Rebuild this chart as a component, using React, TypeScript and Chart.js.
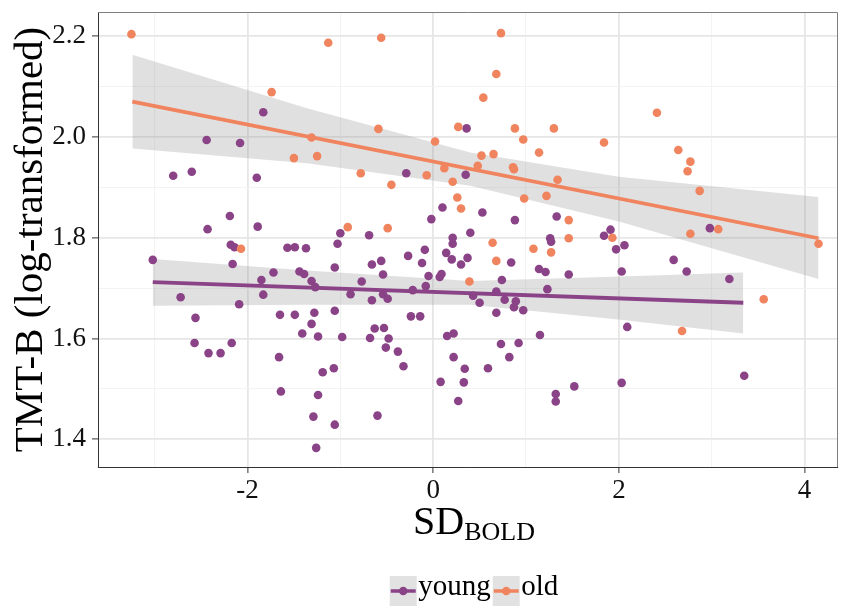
import React, { useEffect, useRef } from 'react';
import { Chart, registerables } from 'chart.js';

Chart.register(...registerables);

const FONT = '"Liberation Serif", "Times New Roman", serif';

const seriesNames = ['young', 'old'];
const seriesColors = ['#8a4387', '#f0845f'];

const xTicks = [-3, -2, -1, 0, 1, 2, 3, 4];
const xTickLabels = ['', '-2', '', '0', '', '2', '', '4'];
const yTicks = [1.4, 1.5, 1.6, 1.7, 1.8, 1.9, 2.0, 2.1, 2.2];
const yTickLabels = ['1.4', '', '1.6', '', '1.8', '', '2.0', '', '2.2'];

const youngX = [
  -1.83, -2.44, -2.08, -2.8, -2.6, -1.9, -2.19, -2.43, -1.89, -1.0,
  -3.02, -2.18, -2.14, -2.16, -2.72, -2.56, -2.09, -2.57, -2.42, -2.29,
  -2.17, -1.85, -1.83, -1.72, -1.57, -1.49, -1.37, -1.44, -1.39, -1.31,
  -1.27, -1.06, -1.03, -1.65, -1.49, -1.28, -1.06, -1.31, -1.41, -1.24,
  -0.98, -1.66, -1.19, -1.07, -1.64, -1.24, -1.29, -1.06, -1.26, 0.36,
  -0.29, 0.35, 0.1, -0.02, 0.53, 0.88, 1.33, -0.69, 0.21, 0.4,
  1.26, 0.21, -0.27, -0.09, -0.66, -0.56, -0.12, 0.14, 0.2, 0.3,
  0.37, 0.84, 1.27, 1.14, 1.21, 1.46, -0.54, -0.77, -0.89, -0.66,
  -0.54, -0.49, -0.22, -0.08, -0.05, 0.07, 0.09, 0.43, 0.5, 0.68,
  0.74, 0.77, 0.89, 0.87, 0.97, 0.68, 1.23, -0.24, -0.14, -0.63,
  -0.53, -0.68, -0.48, -0.51, -0.38, -0.32, 0.15, 0.22, 0.22, 0.34,
  0.59, 0.73, 0.92, 0.82, 1.15, 0.08, 0.33, 0.27, 1.32, 1.32,
  1.52, -0.6, 1.84, 1.91, 1.97, 2.06, 2.03, 2.59, 2.73, 2.98,
  3.19, 2.09, 2.03, 3.35,
];
const youngY = [
  2.049, 1.994, 1.988, 1.923, 1.931, 1.919, 1.843, 1.817, 1.822, 1.809,
  1.756, 1.786, 1.781, 1.748, 1.682, 1.641, 1.668, 1.591, 1.571, 1.571,
  1.591, 1.716, 1.687, 1.731, 1.78, 1.781, 1.779, 1.733, 1.728, 1.714,
  1.702, 1.741, 1.788, 1.647, 1.647, 1.651, 1.655, 1.629, 1.61, 1.604,
  1.603, 1.563, 1.533, 1.541, 1.495, 1.488, 1.445, 1.429, 1.383, 2.017,
  1.928, 1.925, 1.86, 1.837, 1.85, 1.835, 1.842, 1.805, 1.8, 1.81,
  1.799, 1.788, 1.764, 1.776, 1.747, 1.754, 1.75, 1.77, 1.757, 1.747,
  1.76, 1.751, 1.792, 1.738, 1.732, 1.727, 1.727, 1.713, 1.688, 1.676,
  1.688, 1.679, 1.696, 1.704, 1.724, 1.722, 1.728, 1.685, 1.671, 1.693,
  1.716, 1.677, 1.674, 1.662, 1.656, 1.651, 1.698, 1.644, 1.644, 1.62,
  1.621, 1.601, 1.6, 1.582, 1.574, 1.545, 1.605, 1.61, 1.563, 1.54,
  1.541, 1.589, 1.591, 1.563, 1.607, 1.514, 1.513, 1.476, 1.49, 1.475,
  1.505, 1.447, 1.804, 1.816, 1.777, 1.785, 1.733, 1.756, 1.733, 1.819,
  1.718, 1.623, 1.512, 1.526,
];

const oldX = [
  -3.25, -1.74, -1.13, -0.56, 0.73, 0.68, 0.54, -0.59, -1.31, -1.25,
  -1.5, -0.78, -0.45, 0.02, 0.27, 0.88, 1.3, 0.97, 1.14, 0.52,
  0.65, 0.48, 0.86, 0.87, 0.12, -0.07, 0.21, 1.34, 0.26, 0.3,
  0.98, 1.22, 1.46, 1.46, -0.92, -0.49, 0.64, 0.68, 0.39, 1.08,
  1.27, -2.07, 2.41, 1.84, 2.64, 2.77, 2.74, 2.87, 1.93, 2.77,
  3.07, 4.15, 3.56, 2.68,
];
const oldY = [
  2.204, 2.089, 2.187, 2.197, 2.206, 2.125, 2.078, 2.016, 1.999, 1.962,
  1.958, 1.928, 1.905, 1.991, 2.02, 2.017, 2.017, 1.995, 1.969, 1.963,
  1.966, 1.943, 1.94, 1.936, 1.938, 1.924, 1.911, 1.915, 1.88, 1.858,
  1.878, 1.883, 1.835, 1.799, 1.821, 1.819, 1.79, 1.754, 1.713, 1.778,
  1.771, 1.778, 2.048, 1.989, 1.974, 1.951, 1.932, 1.893, 1.8, 1.808,
  1.817, 1.788, 1.678, 1.615,
];

const youngFitX = [-3.02, 3.34];
const youngFitY = [1.712, 1.671];
const oldFitX = [-3.24, 4.15];
const oldFitY = [2.07, 1.799];

const youngBandX = [-3.02, -1.36, 0.4, 2.02, 3.34];
const youngBandUpper = [1.758, 1.735, 1.714, 1.723, 1.731];
const youngBandLower = [1.665, 1.667, 1.667, 1.637, 1.61];
const oldBandX = [-3.24, -1.36, 0.4, 2.0, 4.15];
const oldBandUpper = [2.163, 2.057, 1.969, 1.921, 1.881];
const oldBandLower = [1.977, 1.948, 1.903, 1.832, 1.718];

const zip = (xs: number[], ys: number[]) => xs.map((x, i) => ({ x, y: ys[i] }));

const BAND_FILL = 'rgba(153,153,153,0.3)';

const decorPlugin = {
  id: 'decor',
  afterDraw(chart: any) {
    const { ctx, chartArea: a } = chart;
    ctx.save();
    // panel border top/right
    ctx.strokeStyle = '#7f7f7f';
    ctx.lineWidth = 1;
    ctx.beginPath();
    ctx.moveTo(a.left, a.top + 0.5);
    ctx.lineTo(a.right - 0.5, a.top + 0.5);
    ctx.lineTo(a.right - 0.5, a.bottom);
    ctx.stroke();

    // y title
    ctx.fillStyle = '#000';
    ctx.save();
    ctx.translate(41.5, (a.top + a.bottom) / 2);
    ctx.rotate(-Math.PI / 2);
    ctx.font = `41px ${FONT}`;
    ctx.textAlign = 'center';
    ctx.textBaseline = 'alphabetic';
    ctx.fillText('TMT-B (log-transformed)', 0, 0);
    ctx.restore();

    // x title with subscript
    ctx.textAlign = 'left';
    ctx.textBaseline = 'alphabetic';
    ctx.font = `40px ${FONT}`;
    const wMain = ctx.measureText('SD').width;
    ctx.font = `26px ${FONT}`;
    const wSub = ctx.measureText('BOLD').width;
    const cx = 474;
    const sx = cx - (wMain + wSub) / 2;
    ctx.font = `40px ${FONT}`;
    ctx.fillText('SD', sx, 534);
    ctx.font = `26px ${FONT}`;
    ctx.fillText('BOLD', sx + wMain, 540);

    // legend
    ctx.font = `29px ${FONT}`;
    const keyW = 27;
    const gap = 1.5;
    const widths = seriesNames.map((n) => ctx.measureText(n).width);
    const total = seriesNames.reduce((s, _n, i) => s + keyW + gap + widths[i], 0) + 2 * (seriesNames.length - 1);
    let lx = 474 - total / 2;
    seriesNames.forEach((name, i) => {
      ctx.fillStyle = '#e2e2e2';
      ctx.fillRect(lx, 576, keyW, 34);
      ctx.strokeStyle = seriesColors[i];
      ctx.lineWidth = 3.5;
      ctx.beginPath();
      ctx.moveTo(lx + 1, 591);
      ctx.lineTo(lx + keyW - 1, 591);
      ctx.stroke();
      ctx.fillStyle = seriesColors[i];
      ctx.beginPath();
      ctx.arc(lx + keyW / 2, 591, 4.3, 0, Math.PI * 2);
      ctx.fill();
      ctx.fillStyle = '#000';
      ctx.fillText(name, lx + keyW + gap, 595);
      lx += keyW + gap + widths[i] + 2;
    });
    ctx.restore();
  },
};

export default function App() {
  const ref = useRef<HTMLCanvasElement | null>(null);

  useEffect(() => {
    document.body.style.margin = '0';
    const canvas = ref.current;
    if (!canvas) return;

    const bandDs = (xs: number[], up: number[], lo: number[]) => [
      {
        type: 'line',
        data: zip(xs, up),
        borderWidth: 0,
        borderColor: 'rgba(0,0,0,0)',
        pointRadius: 0,
        backgroundColor: BAND_FILL,
        fill: '+1',
        tension: 0,
        order: 4,
      },
      {
        type: 'line',
        data: zip(xs, lo),
        borderWidth: 0,
        borderColor: 'rgba(0,0,0,0)',
        pointRadius: 0,
        fill: false,
        tension: 0,
        order: 4,
      },
    ];

    const chart = new Chart(canvas, {
      type: 'scatter',
      data: {
        datasets: [
          {
            label: seriesNames[1],
            data: zip(oldX, oldY),
            backgroundColor: seriesColors[1],
            borderWidth: 0,
            pointRadius: 4.3,
            order: 1,
          },
          {
            label: seriesNames[0],
            data: zip(youngX, youngY),
            backgroundColor: seriesColors[0],
            borderWidth: 0,
            pointRadius: 4.3,
            order: 2,
          },
          {
            type: 'line',
            data: zip(oldFitX, oldFitY),
            borderColor: seriesColors[1],
            borderWidth: 3.8,
            pointRadius: 0,
            fill: false,
            order: 3,
          },
          {
            type: 'line',
            data: zip(youngFitX, youngFitY),
            borderColor: seriesColors[0],
            borderWidth: 3.8,
            pointRadius: 0,
            fill: false,
            order: 3,
          },
          ...bandDs(oldBandX, oldBandUpper, oldBandLower),
          ...bandDs(youngBandX, youngBandUpper, youngBandLower),
        ] as any,
      },
      options: {
        animation: false,
        responsive: false,
        devicePixelRatio: 1,
        events: [],
        layout: { padding: { left: 0, right: 5, top: 12, bottom: 0 } },
        plugins: {
          legend: { display: false },
          tooltip: { enabled: false },
        },
        scales: {
          x: {
            type: 'linear',
            min: -3.61,
            max: 4.36,
            afterBuildTicks: (s: any) => {
              s.ticks = xTicks.map((v) => ({ value: v }));
            },
            afterFit: (s: any) => {
              s.height = 139;
              s.paddingLeft = 0;
              s.paddingRight = 0;
            },
            border: { display: true, color: '#333333', width: 1 },
            grid: {
              color: (c: any) => (xTickLabels[c.index] ? '#e6e6e6' : '#f3f3f3'),
              lineWidth: (c: any) => (xTickLabels[c.index] ? 1.8 : 1.1),
              tickColor: (c: any) => (xTickLabels[c.index] ? '#333333' : 'rgba(0,0,0,0)'),
              tickWidth: 1,
              tickLength: 6,
            },
            ticks: {
              autoSkip: false,
              maxRotation: 0,
              padding: 2,
              color: '#111',
              font: { family: FONT, size: 27 },
              callback: (_v: any, i: number) => xTickLabels[i],
            },
          },
          y: {
            type: 'linear',
            min: 1.345,
            max: 2.248,
            afterBuildTicks: (s: any) => {
              s.ticks = yTicks.map((v) => ({ value: v }));
            },
            afterFit: (s: any) => {
              s.width = 98;
              s.paddingTop = 0;
              s.paddingBottom = 0;
            },
            border: { display: true, color: '#333333', width: 1 },
            grid: {
              color: (c: any) => (yTickLabels[c.index] ? '#e6e6e6' : '#f3f3f3'),
              lineWidth: (c: any) => (yTickLabels[c.index] ? 1.8 : 1.1),
              tickColor: (c: any) => (yTickLabels[c.index] ? '#333333' : 'rgba(0,0,0,0)'),
              tickWidth: 1,
              tickLength: 6,
            },
            ticks: {
              autoSkip: false,
              padding: 6,
              color: '#111',
              font: { family: FONT, size: 27 },
              callback: (_v: any, i: number) => yTickLabels[i],
            },
          },
        },
      } as any,
      plugins: [decorPlugin],
    });

    return () => chart.destroy();
  }, []);

  return (
    <div style={{ width: 843, height: 606 }}>
      <canvas ref={ref} width={843} height={606} style={{ display: 'block' }} />
    </div>
  );
}
